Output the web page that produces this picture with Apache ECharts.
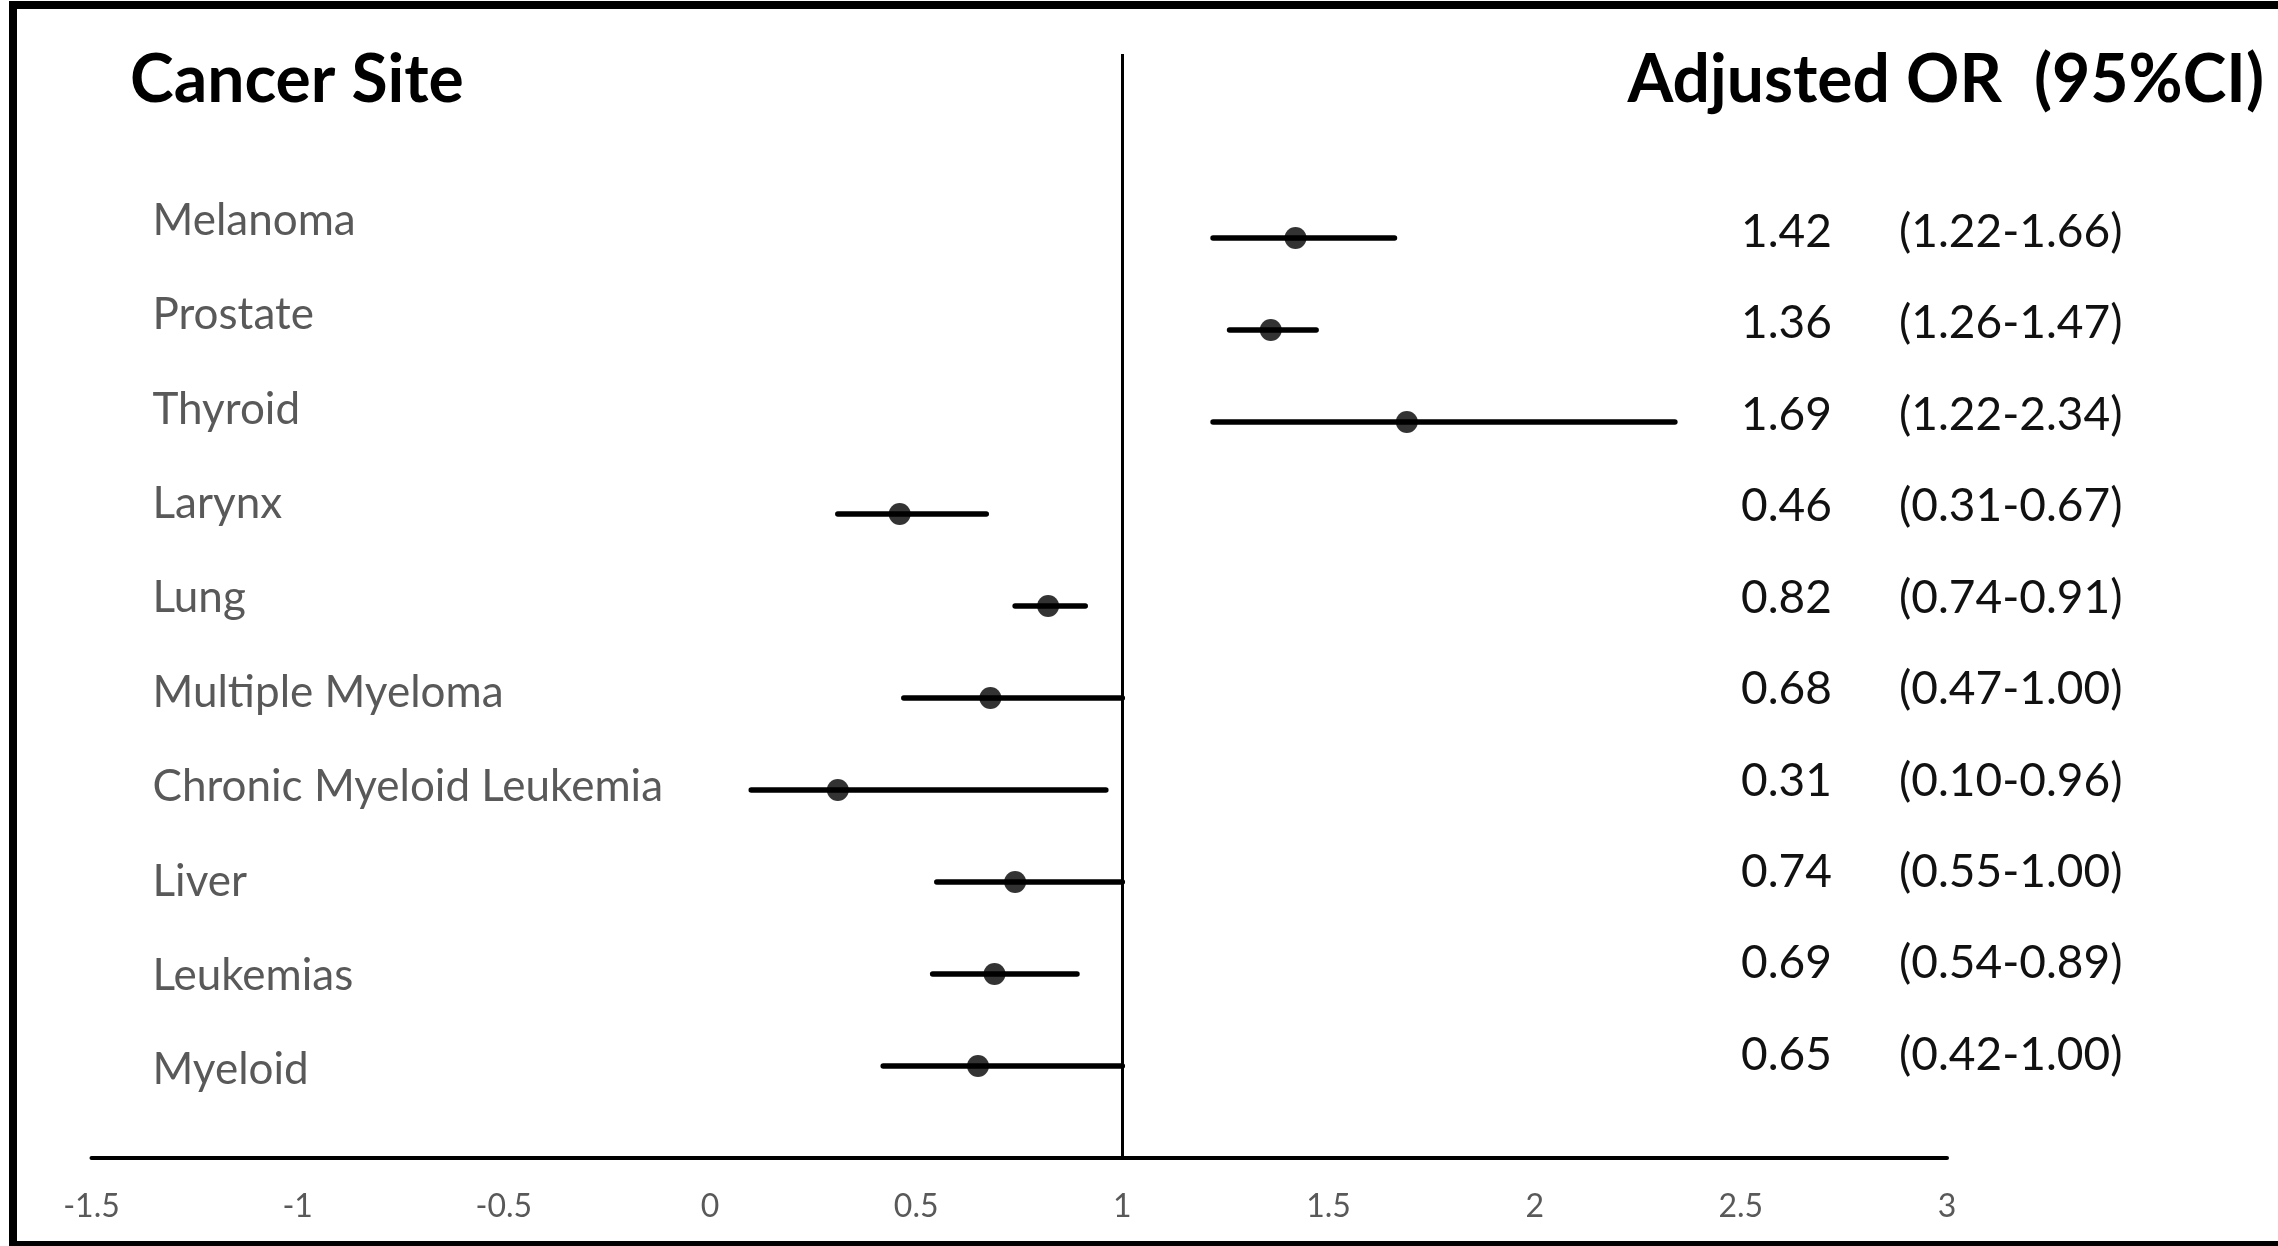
<!DOCTYPE html>
<html>
<head>
<meta charset="utf-8">
<script src="https://cdn.jsdelivr.net/npm/echarts@6/dist/echarts.min.js"></script>
<style>
html,body{margin:0;padding:0;background:#fff;}
#chart{width:2278px;height:1246px;}
</style>
</head>
<body>
<div id="chart"></div>
<script>
// ---- data ----
const categories = ['Melanoma','Prostate','Thyroid','Larynx','Lung','Multiple Myeloma','Chronic Myeloid Leukemia','Liver','Leukemias','Myeloid'];
const oddsRatio = [1.42,1.36,1.69,0.46,0.82,0.68,0.31,0.74,0.69,0.65];
const ciLower  = [1.22,1.26,1.22,0.31,0.74,0.47,0.10,0.55,0.54,0.42];
const ciUpper  = [1.66,1.47,2.34,0.67,0.91,1.00,0.96,1.00,0.89,1.00];
const xTickMin = -1.5, xTickMax = 3, xTickStep = 0.5;
const refValue = 1;
const leftTitle = 'Cancer Site';
const rightTitle = 'Adjusted OR  (95%CI)';

// ---- build ----
const rowIdx = categories.map((c, i) => i + 1);
const pointData = categories.map((c, i) => [oddsRatio[i], i + 1]);
const ciData = categories.map((c, i) => [ciLower[i], ciUpper[i], i + 1]);
const FONT = 'Lato';

const chart = echarts.init(document.getElementById('chart'), null, {renderer: 'canvas'});
chart.setOption({
  backgroundColor: '#fff',
  animation: false,
  title: [
    {text: leftTitle, left: 130, top: 48, padding: 0,
     textStyle: {fontFamily: FONT, fontWeight: 'bold', fontSize: 66, color: '#000'}},
    {text: rightTitle, right: 14, top: 48, padding: 0,
     textStyle: {fontFamily: FONT, fontWeight: 'bold', fontSize: 66, color: '#000'}}
  ],
  grid: {left: 91.5, right: 331, top: 54, bottom: 88, containLabel: false, outerBoundsMode: 'none'},
  xAxis: {
    type: 'value', min: xTickMin, max: xTickMax, interval: xTickStep,
    axisLine: {show: true, onZero: false, lineStyle: {color: '#000', width: 4}},
    axisTick: {show: false}, splitLine: {show: false},
    axisLabel: {margin: 33, color: '#595959', fontFamily: FONT, fontSize: 32,
      formatter: v => String(v)}
  },
  yAxis: [
    {type: 'value', min: -1, max: 11, inverse: true, show: false},
    {type: 'value', min: -0.77, max: 10.933, inverse: true, position: 'left',
     axisLine: {show: false}, axisTick: {show: false}, splitLine: {show: false},
     axisLabel: {inside: true, margin: 61, customValues: rowIdx,
       formatter: v => categories[Math.round(v) - 1] || '',
       color: '#595959', fontFamily: FONT, fontSize: 44}},
    {type: 'value', min: -0.947, max: 11.126, inverse: true, position: 'right', offset: -206,
     axisLine: {show: false}, axisTick: {show: false}, splitLine: {show: false},
     axisLabel: {margin: 0, customValues: rowIdx, align: 'left',
       formatter: v => {
         const i = Math.round(v) - 1;
         if (i < 0 || i >= categories.length) return '';
         return '{o|' + oddsRatio[i].toFixed(2) + '}{c|(' + ciLower[i].toFixed(2) + '-' + ciUpper[i].toFixed(2) + ')}';
       },
       rich: {
         o: {width: 158, fontFamily: FONT, fontSize: 46, color: '#111'},
         c: {fontFamily: FONT, fontSize: 46, color: '#111'}
       }}}
  ],
  series: [
    {
      type: 'custom', yAxisIndex: 0, encode: {x: [0, 1], y: 2},
      data: ciData,
      renderItem: (params, api) => {
        const y = api.value(2);
        const p1 = api.coord([api.value(0), y]);
        const p2 = api.coord([api.value(1), y]);
        return {type: 'line', shape: {x1: p1[0], y1: p1[1], x2: p2[0], y2: p2[1]},
          style: {stroke: '#000', lineWidth: 5.5, lineCap: 'round'}};
      },
      markLine: {
        silent: true, symbol: 'none', label: {show: false},
        lineStyle: {color: '#000', width: 3, type: 'solid'},
        data: [{xAxis: refValue}]
      }
    },
    {
      type: 'scatter', yAxisIndex: 0, data: pointData, symbol: 'circle', symbolSize: 22,
      itemStyle: {color: '#000'}
    }
  ],
  graphic: [
    {type: 'rect', shape: {x: 9, y: 1, width: 2269, height: 8}, style: {fill: '#000'}},
    {type: 'rect', shape: {x: 9, y: 1, width: 8, height: 1245}, style: {fill: '#000'}},
    {type: 'rect', shape: {x: 9, y: 1241, width: 2269, height: 5}, style: {fill: '#000'}}
  ]
});
</script>
</body>
</html>
